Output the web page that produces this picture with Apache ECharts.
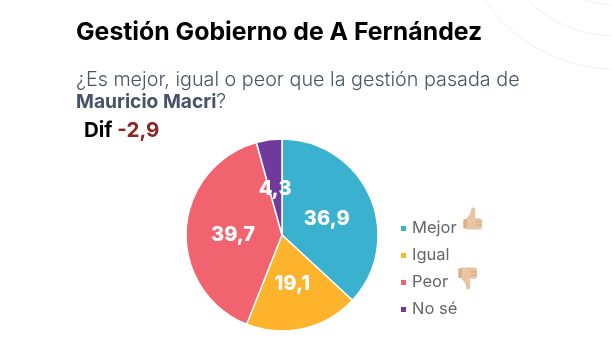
<!DOCTYPE html>
<html>
<head>
<meta charset="utf-8">
<style>
  html, body { margin: 0; padding: 0; background: #fff; }
  #chart { width: 612px; height: 364px; }
</style>
<script src="https://cdn.jsdelivr.net/npm/echarts@6/dist/echarts.min.js"></script>
</head>
<body>
<div id="chart"></div>
<script>
(function () {
  "use strict";
  const categories = ["Mejor", "Igual", "Peor", "No sé"];
  const values = [36.9, 19.1, 39.7, 4.3];
  const colors = ["#3AB1CF", "#FDB32B", "#F1636E", "#6F3A9C"];
  const FONT = "Inter, 'Noto Sans', sans-serif";
  const fmt = v => String(v).replace(".", ",");
  // ajuste fino de cada etiqueta respecto al centro del sector
  const labelShift = [[-2, 4], [-1, -1], [2, 3], [0, 5]];

  const skin = "#E8C4A2";
  // pulgar: se dibuja a mano porque no hay fuente de emoji
  function thumb(x, y, down) {
    return {
      type: "group", x: x, y: y, scaleX: 0.85, scaleY: down ? -0.85 : 0.85, silent: true,
      children: [
        { type: "rect", shape: { x: 0, y: -9, width: 20, height: 13, r: 3 }, style: { fill: skin } },
        { type: "polygon", shape: { points: [[1, -8], [6, -14], [8, -22], [12, -21], [12, -9]] }, style: { fill: skin } },
        { type: "rect", shape: { x: -2, y: -8, width: 4, height: 11, r: 1 }, style: { fill: "#D9AE88" } },
        { type: "line", shape: { x1: 12, y1: -5, x2: 20, y2: -5 }, style: { stroke: "#CFA27C", lineWidth: 1 } },
        { type: "line", shape: { x1: 12, y1: -1, x2: 20, y2: -1 }, style: { stroke: "#CFA27C", lineWidth: 1 } },
      ],
    };
  }

  function ring(r) {
    return { type: "circle", silent: true, shape: { cx: 615, cy: -89, r: r }, style: { fill: "none", stroke: "#F1F1F1", lineWidth: 1 } };
  }

  const chart = echarts.init(document.getElementById("chart"), null, { renderer: "canvas" });
  chart.setOption({
    animation: false,
    backgroundColor: "#fff",
    title: [
      { text: "Gestión Gobierno de A Fernández", left: 76, top: 20, padding: 0,
        textStyle: { fontFamily: FONT, fontSize: 24.8, fontWeight: 700, color: "#000" } },
      { text: "¿Es mejor, igual o peor que la gestión pasada de\n{b|Mauricio Macri}?", left: 76, top: 69, padding: 0,
        textStyle: { fontFamily: FONT, fontSize: 19.75, fontWeight: 300, color: "#4A5568", lineHeight: 22,
          rich: { b: { fontFamily: FONT, fontSize: 19.2, fontWeight: 700, color: "#45526A", lineHeight: 22 } } } },
      { text: "Dif {r|-2,9}", left: 84, top: 120, padding: 0,
        textStyle: { fontFamily: FONT, fontSize: 20.5, fontWeight: 700, color: "#000",
          rich: { r: { fontFamily: FONT, fontSize: 20.5, fontWeight: 700, color: "#8E2323" } } } },
    ],
    legend: {
      orient: "vertical", left: 399, top: 220, padding: 0, itemWidth: 7, itemHeight: 7, itemGap: 10, icon: "rect",
      data: categories,
      textStyle: { fontFamily: FONT, fontSize: 16.5, color: "#666", height: 16, lineHeight: 16, padding: 0 },
    },
    color: colors,
    series: [{
      type: "pie",
      center: [282, 235],
      radius: [0, 96],
      startAngle: 90,
      clockwise: true,
      data: categories.map((name, i) => ({ name: name, value: values[i], label: { offset: labelShift[i] } })),
      itemStyle: { borderColor: "#fff", borderWidth: 1.5 },
      label: {
        show: true, position: "inside",
        formatter: p => fmt(p.value),
        fontFamily: FONT, fontSize: 20, fontWeight: 800, color: "#fff",
      },
      labelLine: { show: false },
      emphasis: { disabled: true },
    }],
    graphic: [
      ring(158), ring(125), ring(94),
      thumb(465, 226, false),
      thumb(460, 271, true),
    ],
  });

  window.addEventListener("resize", () => chart.resize());
})();
</script>
</body>
</html>
